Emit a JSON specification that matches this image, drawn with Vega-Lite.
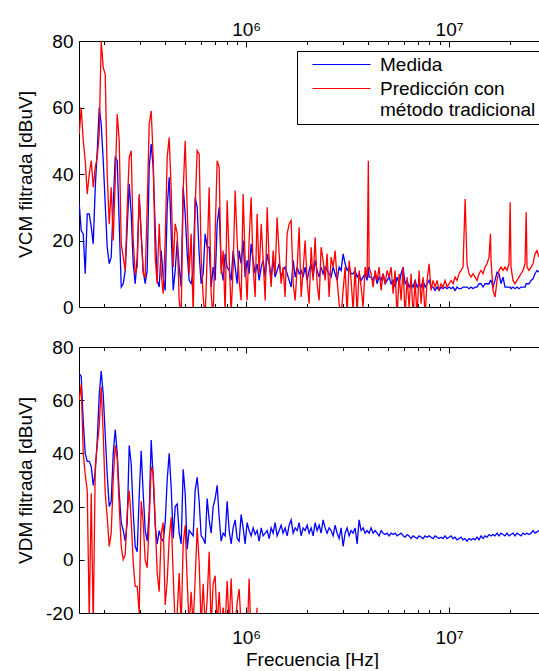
{
"$schema": "https://vega.github.io/schema/vega-lite/v6.json",
"background": "white",
"padding": {"left": 15, "top": 17, "right": 0, "bottom": 0},
"config": {
  "font": "Liberation Sans",
  "view": {"stroke": null},
  "axis": {"grid": false, "domainColor": "black", "tickColor": "black", "labelColor": "black", "titleColor": "black", "labelFontSize": 19, "titleFontSize": 19, "titleFontWeight": "normal", "labelFont": "Liberation Sans", "titleFont": "Liberation Sans", "domainWidth": 1, "tickWidth": 1, "zindex": 1}
},
"spacing": 21,
"resolve": {"scale": {"color": "independent"}},
"datasets": {
"cm": [
{"f":150400,"m":31,"p":52},{"f":153800,"m":23,"p":60},{"f":157400,"m":22,"p":50},{"f":161000,"m":10,"p":44},{"f":164700,"m":28,"p":34},{"f":168500,"m":28,"p":40},{"f":172400,"m":24,"p":44},{"f":176300,"m":19,"p":36},{"f":180400,"m":36,"p":42},{"f":184500,"m":47,"p":45},{"f":188700,"m":60,"p":52},{"f":193000,"m":55,"p":80},{"f":197500,"m":44,"p":72},{"f":202000,"m":31,"p":70},{"f":206600,"m":18,"p":40},{"f":211400,"m":13,"p":25},{"f":216200,"m":15,"p":36},{"f":221200,"m":31,"p":20},{"f":226300,"m":45,"p":38},{"f":231500,"m":44,"p":58},{"f":236800,"m":25,"p":50},{"f":242200,"m":6,"p":19},{"f":247800,"m":7,"p":15},{"f":253500,"m":11,"p":11},{"f":259300,"m":24,"p":30},{"f":265200,"m":37,"p":45},{"f":271300,"m":28,"p":47},{"f":277500,"m":13,"p":20},{"f":283900,"m":7,"p":10},{"f":290400,"m":15,"p":12},{"f":297000,"m":33,"p":34},{"f":303800,"m":22,"p":22},{"f":310800,"m":11,"p":10},{"f":317900,"m":7,"p":9},{"f":325200,"m":11,"p":30},{"f":332700,"m":42,"p":55},{"f":340300,"m":49,"p":59},{"f":348100,"m":42,"p":45},{"f":356100,"m":24,"p":15},{"f":364300,"m":8,"p":7},{"f":372700,"m":6,"p":25},{"f":381200,"m":17,"p":10},{"f":390000,"m":9,"p":4},{"f":398900,"m":5,"p":20},{"f":408100,"m":30,"p":45},{"f":417500,"m":39,"p":51},{"f":427100,"m":22,"p":35},{"f":436900,"m":5,"p":12},{"f":446900,"m":11,"p":25},{"f":457200,"m":20,"p":22},{"f":467600,"m":12,"p":2},{"f":478300,"m":6,"p":-3},{"f":489300,"m":36,"p":35},{"f":500500,"m":28,"p":50},{"f":512000,"m":16,"p":30},{"f":523700,"m":8,"p":10},{"f":535700,"m":7,"p":22},{"f":548000,"m":11,"p":-2},{"f":560600,"m":33,"p":30},{"f":573500,"m":30,"p":47},{"f":586600,"m":16,"p":46},{"f":600000,"m":7,"p":15},{"f":613800,"m":10,"p":3},{"f":627900,"m":22,"p":-3},{"f":642300,"m":18,"p":15},{"f":657100,"m":18,"p":36},{"f":672100,"m":6,"p":4},{"f":687600,"m":12,"p":-3},{"f":703400,"m":8,"p":22},{"f":719500,"m":25,"p":44},{"f":736000,"m":30,"p":42},{"f":752900,"m":12,"p":10},{"f":770200,"m":8,"p":17},{"f":787800,"m":16,"p":-2},{"f":805900,"m":12,"p":32},{"f":824400,"m":11,"p":15},{"f":843300,"m":8,"p":-2},{"f":862600,"m":17,"p":12},{"f":882400,"m":12,"p":35},{"f":902700,"m":7,"p":20},{"f":923400,"m":17,"p":8},{"f":944500,"m":13,"p":2},{"f":966200,"m":20,"p":34},{"f":988400,"m":9,"p":14},{"f":1011000,"m":14,"p":2},{"f":1034000,"m":10,"p":20},{"f":1058000,"m":19,"p":33},{"f":1082000,"m":14,"p":12},{"f":1107000,"m":10,"p":3},{"f":1132000,"m":13,"p":28},{"f":1159000,"m":8,"p":10},{"f":1186000,"m":12,"p":25},{"f":1213000,"m":14,"p":14},{"f":1241000,"m":9,"p":2},{"f":1269000,"m":16,"p":30},{"f":1298000,"m":13,"p":14},{"f":1328000,"m":9,"p":6},{"f":1358000,"m":14,"p":17},{"f":1389000,"m":9,"p":10},{"f":1421000,"m":11,"p":27},{"f":1454000,"m":13,"p":16},{"f":1487000,"m":9,"p":7},{"f":1521000,"m":11,"p":12},{"f":1556000,"m":12,"p":3},{"f":1592000,"m":10,"p":22},{"f":1629000,"m":8,"p":25},{"f":1666000,"m":6,"p":26},{"f":1705000,"m":14,"p":7},{"f":1744000,"m":9,"p":2},{"f":1784000,"m":12,"p":12},{"f":1824000,"m":10,"p":24},{"f":1866000,"m":11,"p":3},{"f":1909000,"m":9,"p":11},{"f":1952000,"m":12,"p":20},{"f":1997000,"m":8,"p":8},{"f":2043000,"m":11,"p":1},{"f":2090000,"m":13,"p":18},{"f":2138000,"m":9,"p":8},{"f":2187000,"m":14,"p":21},{"f":2237000,"m":11,"p":7},{"f":2289000,"m":9,"p":2},{"f":2341000,"m":12,"p":18},{"f":2395000,"m":10,"p":14},{"f":2450000,"m":12,"p":8},{"f":2506000,"m":11,"p":16},{"f":2564000,"m":10,"p":3},{"f":2623000,"m":9,"p":15},{"f":2683000,"m":12,"p":12},{"f":2744000,"m":10,"p":17},{"f":2808000,"m":8,"p":8},{"f":2872000,"m":12,"p":1},{"f":2938000,"m":11,"p":-3},{"f":3005000,"m":16,"p":5},{"f":3074000,"m":13,"p":12},{"f":3145000,"m":11,"p":-2},{"f":3217000,"m":12,"p":14},{"f":3291000,"m":10,"p":8},{"f":3366000,"m":10,"p":-1},{"f":3443000,"m":11,"p":12},{"f":3523000,"m":9,"p":-2},{"f":3603000,"m":10,"p":11},{"f":3686000,"m":8,"p":6},{"f":3770000,"m":9,"p":0},{"f":3857000,"m":10,"p":12},{"f":3945000,"m":8,"p":9},{"f":4000000,"m":12,"p":44},{"f":4036000,"m":9,"p":12},{"f":4128000,"m":9,"p":10},{"f":4223000,"m":8,"p":6},{"f":4320000,"m":10,"p":11},{"f":4419000,"m":7,"p":8},{"f":4521000,"m":9,"p":12},{"f":4625000,"m":8,"p":5},{"f":4731000,"m":10,"p":10},{"f":4839000,"m":7,"p":7},{"f":4950000,"m":8,"p":11},{"f":5064000,"m":9,"p":9},{"f":5180000,"m":7,"p":12},{"f":5299000,"m":8,"p":4},{"f":5421000,"m":6,"p":11},{"f":5545000,"m":9,"p":-3},{"f":5672000,"m":7,"p":10},{"f":5802000,"m":10,"p":2},{"f":5935000,"m":12,"p":12},{"f":6071000,"m":7,"p":-3},{"f":6211000,"m":8,"p":9},{"f":6353000,"m":6,"p":0},{"f":6499000,"m":7,"p":10},{"f":6648000,"m":6,"p":-3},{"f":6800000,"m":8,"p":8},{"f":6956000,"m":6,"p":-3},{"f":7116000,"m":7,"p":11},{"f":7279000,"m":6,"p":1},{"f":7446000,"m":8,"p":9},{"f":7617000,"m":6,"p":-3},{"f":7792000,"m":7,"p":8},{"f":7971000,"m":8,"p":13},{"f":8154000,"m":6,"p":5},{"f":8341000,"m":6,"p":8},{"f":8532000,"m":5,"p":6},{"f":8728000,"m":6,"p":8},{"f":8928000,"m":5,"p":5},{"f":9132000,"m":6,"p":7},{"f":9342000,"m":5.5,"p":6},{"f":9556000,"m":6,"p":8},{"f":9776000,"m":5.5,"p":6},{"f":10000000,"m":6,"p":7},{"f":10230000,"m":5.5,"p":8},{"f":10460000,"m":6,"p":7},{"f":10700000,"m":5,"p":9},{"f":10950000,"m":6,"p":8},{"f":11200000,"m":5.5,"p":10},{"f":11460000,"m":5.5,"p":11},{"f":11720000,"m":6,"p":12},{"f":12000000,"m":6,"p":32.5},{"f":12260000,"m":6,"p":13},{"f":12550000,"m":5.5,"p":10},{"f":12840000,"m":6,"p":9},{"f":13130000,"m":5.5,"p":10},{"f":13430000,"m":6,"p":9},{"f":13740000,"m":6,"p":8},{"f":14050000,"m":7,"p":10},{"f":14370000,"m":7,"p":11},{"f":14710000,"m":6,"p":10},{"f":15040000,"m":7,"p":12},{"f":15390000,"m":7,"p":13},{"f":15740000,"m":7,"p":15},{"f":16000000,"m":8,"p":22},{"f":16100000,"m":8,"p":14},{"f":16470000,"m":6,"p":5},{"f":16850000,"m":8,"p":3},{"f":17240000,"m":10.5,"p":8},{"f":17630000,"m":10,"p":11},{"f":18030000,"m":7,"p":12},{"f":18450000,"m":9,"p":11},{"f":18870000,"m":6,"p":12},{"f":19310000,"m":6,"p":11},{"f":19750000,"m":6,"p":13},{"f":20000000,"m":6,"p":31.5},{"f":20200000,"m":5.5,"p":12},{"f":20660000,"m":6,"p":8},{"f":21140000,"m":5.5,"p":7},{"f":21630000,"m":6,"p":8},{"f":22120000,"m":5.5,"p":9},{"f":22630000,"m":6,"p":10},{"f":23150000,"m":6,"p":11},{"f":23680000,"m":6,"p":13},{"f":24000000,"m":7,"p":28.5},{"f":24220000,"m":7,"p":12},{"f":24780000,"m":7,"p":11},{"f":25350000,"m":8,"p":12},{"f":25930000,"m":8.5,"p":13},{"f":26520000,"m":10,"p":16},{"f":27130000,"m":11,"p":17},{"f":27750000,"m":10.5,"p":15}
],
"dm": [
{"f":150400,"m":70,"p":60},{"f":153800,"m":69,"p":66},{"f":157400,"m":52,"p":40},{"f":161000,"m":40,"p":32},{"f":164700,"m":37,"p":26},{"f":168500,"m":37,"p":-22},{"f":172400,"m":35,"p":25},{"f":176300,"m":28,"p":-25},{"f":180400,"m":33,"p":35},{"f":184500,"m":45,"p":43},{"f":188700,"m":62,"p":50},{"f":193000,"m":71,"p":65},{"f":197500,"m":62,"p":47},{"f":202000,"m":47,"p":25},{"f":206600,"m":32,"p":16},{"f":211400,"m":20,"p":5},{"f":216200,"m":22,"p":10},{"f":221200,"m":40,"p":30},{"f":226300,"m":49,"p":43},{"f":231500,"m":40,"p":38},{"f":236800,"m":25,"p":20},{"f":242200,"m":14,"p":5},{"f":247800,"m":11,"p":0},{"f":253500,"m":7,"p":2},{"f":259300,"m":14,"p":18},{"f":265200,"m":43,"p":26},{"f":271300,"m":36,"p":15},{"f":277500,"m":18,"p":-1},{"f":283900,"m":5,"p":-10},{"f":290400,"m":3,"p":-10},{"f":297000,"m":24,"p":-20},{"f":303800,"m":41,"p":22},{"f":310800,"m":25,"p":14},{"f":317900,"m":11,"p":0},{"f":325200,"m":7,"p":-3},{"f":332700,"m":18,"p":14},{"f":340300,"m":45,"p":35},{"f":348100,"m":31,"p":33},{"f":356100,"m":13,"p":15},{"f":364300,"m":6,"p":-5},{"f":372700,"m":11,"p":-12},{"f":381200,"m":8,"p":10},{"f":390000,"m":7,"p":14},{"f":398900,"m":14,"p":-17},{"f":408100,"m":30,"p":-8},{"f":417500,"m":40,"p":8},{"f":427100,"m":27,"p":16},{"f":436900,"m":8,"p":-6},{"f":446900,"m":20,"p":-25},{"f":457200,"m":21,"p":-20},{"f":467600,"m":10,"p":-5},{"f":478300,"m":6,"p":-25},{"f":489300,"m":34,"p":6},{"f":500500,"m":25,"p":13},{"f":512000,"m":4,"p":-8},{"f":523700,"m":11,"p":-25},{"f":535700,"m":10,"p":-12},{"f":548000,"m":9,"p":-25},{"f":560600,"m":26,"p":-7},{"f":573500,"m":31,"p":12},{"f":586600,"m":22,"p":-1},{"f":600000,"m":9,"p":-25},{"f":613800,"m":8,"p":-9},{"f":627900,"m":6,"p":-25},{"f":642300,"m":23,"p":-15},{"f":657100,"m":15,"p":3},{"f":672100,"m":10,"p":-25},{"f":687600,"m":20,"p":-9},{"f":703400,"m":23,"p":-6},{"f":719500,"m":28,"p":-25},{"f":736000,"m":16,"p":-12},{"f":752900,"m":7,"p":-25},{"f":770200,"m":10,"p":-18},{"f":787800,"m":9,"p":-25},{"f":805900,"m":22,"p":-8},{"f":824400,"m":11,"p":-25},{"f":843300,"m":6,"p":-7},{"f":862600,"m":12,"p":-25},{"f":882400,"m":15,"p":-25},{"f":902700,"m":8,"p":-16},{"f":923400,"m":7,"p":-11},{"f":944500,"m":17,"p":-25},{"f":966200,"m":12,"p":-30},{"f":988400,"m":6,"p":-30},{"f":1011000,"m":14,"p":-30},{"f":1034000,"m":11,"p":-7},{"f":1058000,"m":9,"p":-30},{"f":1082000,"m":12,"p":-30},{"f":1107000,"m":9.5,"p":-30},{"f":1132000,"m":11,"p":-18},
{"f":1159000,"m":7},{"f":1186000,"m":12},{"f":1213000,"m":9},{"f":1241000,"m":10},{"f":1269000,"m":11},{"f":1298000,"m":8},{"f":1328000,"m":12},{"f":1358000,"m":10},{"f":1389000,"m":14},{"f":1421000,"m":9},{"f":1454000,"m":11},{"f":1487000,"m":13},{"f":1521000,"m":10},{"f":1556000,"m":12},{"f":1592000,"m":9},{"f":1629000,"m":13},{"f":1666000,"m":15},{"f":1705000,"m":10},{"f":1744000,"m":12},{"f":1784000,"m":11},{"f":1824000,"m":14},{"f":1866000,"m":9},{"f":1909000,"m":12},{"f":1952000,"m":11},{"f":1997000,"m":13},{"f":2043000,"m":10},{"f":2090000,"m":12},{"f":2138000,"m":9},{"f":2187000,"m":14},{"f":2237000,"m":11},{"f":2289000,"m":13},{"f":2341000,"m":10},{"f":2395000,"m":15},{"f":2450000,"m":12},{"f":2506000,"m":10},{"f":2564000,"m":12},{"f":2623000,"m":11},{"f":2683000,"m":9},{"f":2744000,"m":13},{"f":2808000,"m":10},{"f":2872000,"m":8},{"f":2938000,"m":12},{"f":3005000,"m":5},{"f":3074000,"m":10},{"f":3145000,"m":12},{"f":3217000,"m":9},{"f":3291000,"m":11},{"f":3366000,"m":10},{"f":3443000,"m":12},{"f":3523000,"m":6},{"f":3603000,"m":15},{"f":3686000,"m":11},{"f":3770000,"m":12},{"f":3857000,"m":10},{"f":3945000,"m":11},{"f":4036000,"m":10},{"f":4128000,"m":12},{"f":4223000,"m":10},{"f":4320000,"m":11},{"f":4419000,"m":10},{"f":4521000,"m":9},{"f":4625000,"m":11},{"f":4731000,"m":10},{"f":4839000,"m":9.5},{"f":4950000,"m":10},{"f":5064000,"m":9},{"f":5180000,"m":10},{"f":5299000,"m":9.5},{"f":5421000,"m":10},{"f":5545000,"m":9},{"f":5672000,"m":9.5},{"f":5802000,"m":10},{"f":5935000,"m":9},{"f":6071000,"m":8.5},{"f":6211000,"m":9.5},{"f":6353000,"m":9},{"f":6499000,"m":8},{"f":6648000,"m":9},{"f":6800000,"m":8.5},{"f":6956000,"m":8},{"f":7116000,"m":9},{"f":7279000,"m":8.5},{"f":7446000,"m":8},{"f":7617000,"m":9},{"f":7792000,"m":8.5},{"f":7971000,"m":9},{"f":8154000,"m":8.5},{"f":8341000,"m":8},{"f":8532000,"m":9},{"f":8728000,"m":8.5},{"f":8928000,"m":8},{"f":9132000,"m":8.5},{"f":9342000,"m":8},{"f":9556000,"m":9},{"f":9776000,"m":8},{"f":10000000,"m":8.5},{"f":10230000,"m":9},{"f":10460000,"m":8},{"f":10700000,"m":8.5},{"f":10950000,"m":7.5},{"f":11200000,"m":8},{"f":11460000,"m":8.5},{"f":11720000,"m":7.5},{"f":11990000,"m":8},{"f":12260000,"m":7},{"f":12550000,"m":8},{"f":12840000,"m":7.5},{"f":13130000,"m":8},{"f":13430000,"m":7.5},{"f":13740000,"m":8.5},{"f":14050000,"m":7.5},{"f":14370000,"m":9},{"f":14710000,"m":8},{"f":15040000,"m":9},{"f":15390000,"m":8.5},{"f":15740000,"m":9.5},{"f":16100000,"m":9},{"f":16470000,"m":9.5},{"f":16850000,"m":9},{"f":17240000,"m":10},{"f":17630000,"m":9},{"f":18030000,"m":10},{"f":18450000,"m":9.5},{"f":18870000,"m":9},{"f":19310000,"m":10},{"f":19750000,"m":9},{"f":20200000,"m":9.5},{"f":20660000,"m":10},{"f":21140000,"m":9},{"f":21630000,"m":10},{"f":22120000,"m":9.5},{"f":22630000,"m":9},{"f":23150000,"m":10},{"f":23680000,"m":9.5},{"f":24220000,"m":10},{"f":24780000,"m":9.5},{"f":25350000,"m":10},{"f":25930000,"m":11},{"f":26520000,"m":10},{"f":27130000,"m":10.5},{"f":27750000,"m":11}
]
},
"vconcat": [
{
  "width": 460, "height": 266,
  "data": {"name": "cm"},
  "transform": [{"fold": ["m", "p"], "as": ["s", "v"]}],
  "layer": [
    {
      "transform": [{"filter": "datum.s == 'm'"}],
      "mark": {"type": "line", "clip": true, "strokeWidth": 1.3},
      "encoding": {
        "x": {"field": "f", "type": "quantitative", "scale": {"type": "log", "domain": [150000, 27750000], "nice": false},
          "axis": {"orient": "top", "values": [200000,300000,400000,500000,600000,700000,800000,900000,1000000,2000000,3000000,4000000,5000000,6000000,7000000,8000000,9000000,10000000,20000000],
            "labelExpr": "datum.value == 1000000 ? '10⁶' : (datum.value == 10000000 ? '10⁷' : '')",
            "tickSize": {"condition": {"test": "datum.value == 1000000 || datum.value == 10000000", "value": -6}, "value": -3.5},
            "labelPadding": 8, "title": null, "labelFlush": false, "labelOverlap": false, "labelBound": false}},
        "y": {"field": "v", "type": "quantitative", "scale": {"domain": [0, 80], "nice": false, "zero": false},
          "axis": {"values": [0,20,40,60,80], "tickSize": -5, "labelPadding": 11, "labelExpr": "'' + datum.value",
            "title": "VCM filtrada [dBuV]", "titleX": -54, "titleY": 133, "titleAngle": -90, "titleAlign": "center", "titleBaseline": "middle",
            "labelFlush": false, "labelBound": false, "labelOverlap": false}},
        "color": {"field": "s", "type": "nominal", "scale": {"domain": ["m", "p"], "range": ["#0000ff", "#ff0000"]},
          "legend": {"orient": "none", "legendX": 218, "legendY": 10, "title": null,
            "labelExpr": "datum.label == 'm' ? 'Medida' : ['Predicción con', 'método tradicional']",
            "symbolType": "M-5,0H5", "symbolSize": 135, "symbolStrokeWidth": 1,
            "labelFontSize": 19, "labelFont": "Liberation Sans", "labelColor": "black", "labelLimit": 400,
            "strokeColor": "black", "fillColor": "white", "padding": 4, "rowPadding": 4, "labelOffset": 29, "symbolOffset": 31}}
      }
    },
    {
      "transform": [{"filter": "datum.s == 'p'"}],
      "mark": {"type": "line", "clip": true, "strokeWidth": 1.3},
      "encoding": {
        "x": {"field": "f", "type": "quantitative", "scale": {"type": "log", "domain": [150000, 27750000], "nice": false},
          "axis": {"orient": "bottom", "values": [200000,300000,400000,500000,600000,700000,800000,900000,1000000,2000000,3000000,4000000,5000000,6000000,7000000,8000000,9000000,10000000,20000000],
            "labels": false,
            "tickSize": {"condition": {"test": "datum.value == 1000000 || datum.value == 10000000", "value": -6}, "value": -3.5},
            "title": null}},
        "y": {"field": "v", "type": "quantitative", "scale": {"domain": [0, 80], "nice": false, "zero": false}},
        "color": {"field": "s", "type": "nominal", "scale": {"domain": ["m", "p"], "range": ["#0000ff", "#ff0000"]},
          "legend": {"orient": "none", "legendX": 218, "legendY": 10, "title": null,
            "labelExpr": "datum.label == 'm' ? 'Medida' : ['Predicción con', 'método tradicional']",
            "symbolType": "M-5,0H5", "symbolSize": 135, "symbolStrokeWidth": 1,
            "labelFontSize": 19, "labelFont": "Liberation Sans", "labelColor": "black", "labelLimit": 400,
            "strokeColor": "black", "fillColor": "white", "padding": 4, "rowPadding": 4, "labelOffset": 29, "symbolOffset": 31}}
      }
    }
  ],
  "resolve": {"axis": {"x": "independent"}}
},
{
  "width": 460, "height": 266,
  "data": {"name": "dm"},
  "transform": [{"fold": ["m", "p"], "as": ["s", "v"]}],
  "layer": [
    {
      "transform": [{"filter": "datum.s == 'm'"}],
      "mark": {"type": "line", "clip": true, "strokeWidth": 1.3},
      "encoding": {
        "x": {"field": "f", "type": "quantitative", "scale": {"type": "log", "domain": [150000, 27750000], "nice": false},
          "axis": {"orient": "bottom", "values": [200000,300000,400000,500000,600000,700000,800000,900000,1000000,2000000,3000000,4000000,5000000,6000000,7000000,8000000,9000000,10000000,20000000],
            "labelExpr": "datum.value == 1000000 ? '10⁶' : (datum.value == 10000000 ? '10⁷' : '')",
            "tickSize": {"condition": {"test": "datum.value == 1000000 || datum.value == 10000000", "value": -6}, "value": -3.5},
            "labelPadding": 21, "title": "Frecuencia [Hz]", "titleX": 233, "titleAlign": "center", "titleY": 52, "titleBaseline": "alphabetic",
            "labelFlush": false, "labelOverlap": false, "labelBound": false}},
        "y": {"field": "v", "type": "quantitative", "scale": {"domain": [-20, 80], "nice": false, "zero": false},
          "axis": {"values": [-20,0,20,40,60,80], "tickSize": -5, "labelPadding": 11, "labelExpr": "'' + datum.value",
            "title": "VDM filtrada [dBuV]", "titleX": -54, "titleY": 133, "titleAngle": -90, "titleAlign": "center", "titleBaseline": "middle",
            "labelFlush": false, "labelBound": false, "labelOverlap": false}},
        "color": {"field": "s", "type": "nominal", "scale": {"domain": ["m", "p"], "range": ["#0000ff", "#ff0000"]}, "legend": null}
      }
    },
    {
      "transform": [{"filter": "datum.s == 'p'"}],
      "mark": {"type": "line", "clip": true, "strokeWidth": 1.3},
      "encoding": {
        "x": {"field": "f", "type": "quantitative", "scale": {"type": "log", "domain": [150000, 27750000], "nice": false},
          "axis": {"orient": "top", "values": [200000,300000,400000,500000,600000,700000,800000,900000,1000000,2000000,3000000,4000000,5000000,6000000,7000000,8000000,9000000,10000000,20000000],
            "labels": false,
            "tickSize": {"condition": {"test": "datum.value == 1000000 || datum.value == 10000000", "value": -6}, "value": -3.5},
            "title": null}},
        "y": {"field": "v", "type": "quantitative", "scale": {"domain": [-20, 80], "nice": false, "zero": false}},
        "color": {"field": "s", "type": "nominal", "scale": {"domain": ["m", "p"], "range": ["#0000ff", "#ff0000"]}, "legend": null}
      }
    }
  ],
  "resolve": {"axis": {"x": "independent"}}
}
]
}
